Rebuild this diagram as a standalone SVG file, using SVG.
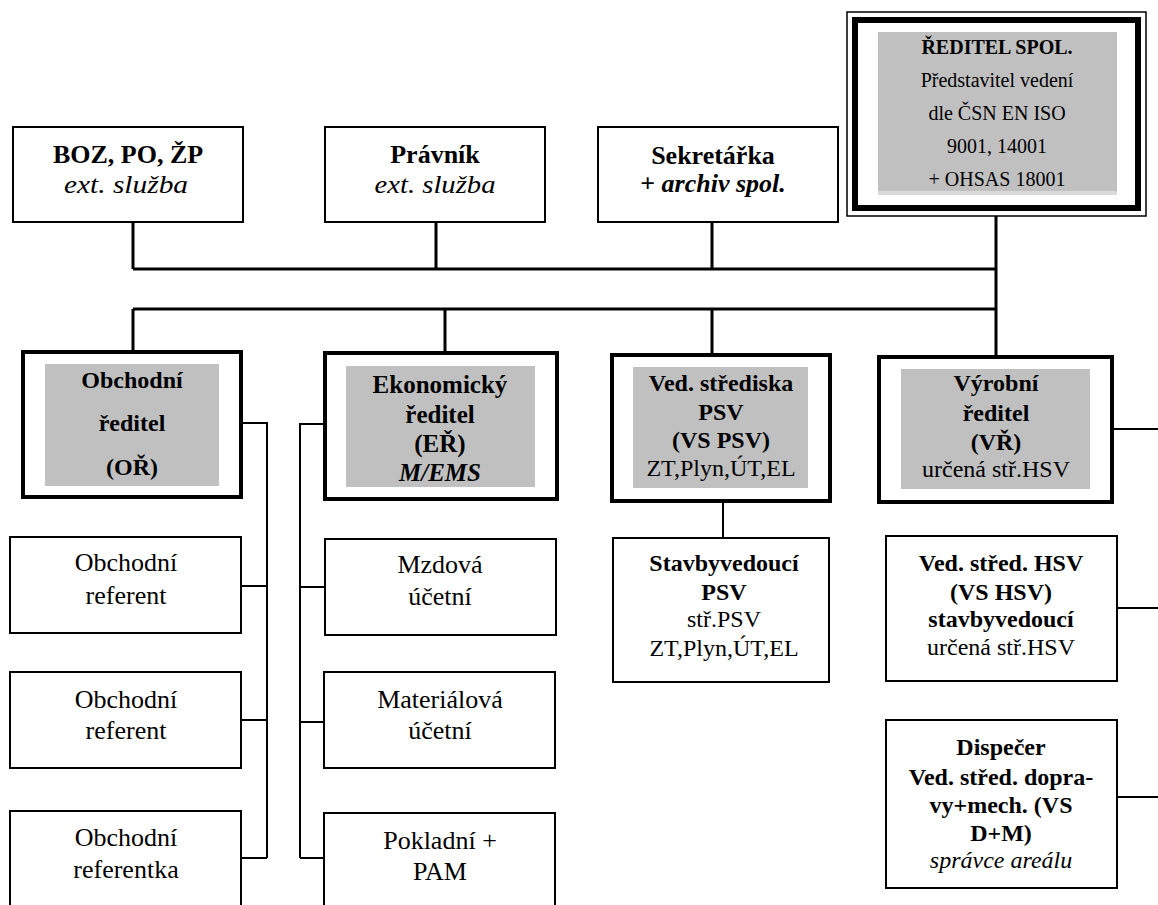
<svg xmlns="http://www.w3.org/2000/svg" width="1158" height="905" viewBox="0 0 1158 905">
<style>
text{font-family:"Liberation Serif","Times New Roman",serif;fill:#000;text-anchor:middle}
.b{font-weight:bold}
.i{font-style:italic}
.t26{font-size:26px}
.t24{font-size:24px}
.t20{font-size:20px}
.thin{fill:#fff;stroke:#000;stroke-width:2}
.thick{fill:#fff;stroke:#000;stroke-width:4}
.gray{fill:#c0c0c0}
.c3{stroke:#000;stroke-width:3;fill:none}
.c2{stroke:#000;stroke-width:2;fill:none}
</style>
<g id="connectors">
<path class="c3" d="M133,222V269M436,222V269M712,222V269M996,216V357M133,269H997M133,309H997M133,309V352M445,309V353M712,309V355"/>
<path class="c2" d="M241,423H267V858M241,586H267M241,720H267M241,858H267"/>
<path class="c2" d="M325,424H300V858M300,587H325M300,722H325M300,858H325"/>
<path class="c2" d="M723,501V538M1112,429H1158M1117,608H1158M1117,797H1158"/>
</g>
<g id="director">
<rect x="847" y="12" width="299" height="204" fill="#fff" stroke="#000" stroke-width="1.5"/>
<rect x="855" y="20" width="283" height="188" fill="#fff" stroke="#000" stroke-width="6"/>
<rect class="gray" x="878" y="32" width="239" height="163"/>
<rect x="878" y="191" width="239" height="4" fill="#d9d9d9"/>
<text class="t20 b" x="997" y="54">ŘEDITEL SPOL.</text>
<text class="t20" x="997" y="87">Představitel vedení</text>
<text class="t20" x="997" y="120">dle ČSN EN ISO</text>
<text class="t20" x="997" y="153">9001, 14001</text>
<text class="t20" x="997" y="186">+ OHSAS 18001</text>
</g>
<g id="boz">
<rect class="thin" x="13" y="127" width="230" height="95"/>
<text class="t26 b" x="128" y="163">BOZ, PO, ŽP</text>
<text class="t26 i" x="126" y="193" textLength="124" lengthAdjust="spacingAndGlyphs">ext. služba</text>
</g>
<g id="pravnik">
<rect class="thin" x="325" y="127" width="220" height="95"/>
<text class="t26 b" x="435" y="163">Právník</text>
<text class="t26 i" x="435" y="193" textLength="121" lengthAdjust="spacingAndGlyphs">ext. služba</text>
</g>
<g id="sekretarka">
<rect class="thin" x="598" y="127" width="240" height="95"/>
<text class="t26 b" x="713" y="164">Sekretářka</text>
<text class="t26" x="713" y="192"><tspan class="b">+ </tspan><tspan class="b i">archiv spol.</tspan></text>
</g>
<g id="obchodni-reditel">
<rect class="thick" x="23" y="352" width="218" height="145"/>
<rect class="gray" x="45" y="364" width="174" height="122"/>
<text class="t24 b" x="132" y="388">Obchodní</text>
<text class="t24 b" x="132" y="431">ředitel</text>
<text class="t24 b" x="132" y="475">(OŘ)</text>
</g>
<g id="ekonomicky-reditel">
<rect class="thick" x="325" y="353" width="232" height="146"/>
<rect class="gray" x="346" y="366" width="189" height="121"/>
<text class="b" font-size="25" x="440" y="393">Ekonomický</text>
<text class="b" font-size="25" x="440" y="423">ředitel</text>
<text class="b" font-size="25" x="440" y="452">(EŘ)</text>
<text class="b i" font-size="25" x="440" y="481">M/EMS</text>
</g>
<g id="ved-strediska-psv">
<rect class="thick" x="612" y="355" width="218" height="146"/>
<rect class="gray" x="633" y="367" width="175" height="121"/>
<text class="t24 b" x="721" y="391">Ved. střediska</text>
<text class="t24 b" x="721" y="420">PSV</text>
<text class="t24 b" x="721" y="448">(VS PSV)</text>
<text class="t24" x="721" y="476">ZT,Plyn,ÚT,EL</text>
</g>
<g id="vyrobni-reditel">
<rect class="thick" x="879" y="357" width="233" height="145"/>
<rect class="gray" x="901" y="369" width="189" height="120"/>
<text class="t24 b" x="996" y="391">Výrobní</text>
<text class="t24 b" x="996" y="421">ředitel</text>
<text class="t24 b" x="996" y="450">(VŘ)</text>
<text class="t24" x="996" y="477">určená stř.HSV</text>
</g>
<g id="obchodni-referent-1">
<rect class="thin" x="10" y="537" width="231" height="96"/>
<text class="t26" x="126" y="571">Obchodní</text>
<text class="t26" x="126" y="604">referent</text>
</g>
<g id="obchodni-referent-2">
<rect class="thin" x="10" y="672" width="231" height="96"/>
<text class="t26" x="126" y="708">Obchodní</text>
<text class="t26" x="126" y="739">referent</text>
</g>
<g id="obchodni-referentka">
<rect class="thin" x="10" y="811" width="231" height="100"/>
<text class="t26" x="126" y="846">Obchodní</text>
<text class="t26" x="126" y="878">referentka</text>
</g>
<g id="mzdova-ucetni">
<rect class="thin" x="325" y="539" width="231" height="96"/>
<text class="t26" x="440" y="573">Mzdová</text>
<text class="t26" x="440" y="605">účetní</text>
</g>
<g id="materialova-ucetni">
<rect class="thin" x="324" y="672" width="231" height="96"/>
<text class="t26" x="440" y="708">Materiálová</text>
<text class="t26" x="440" y="739">účetní</text>
</g>
<g id="pokladni">
<rect class="thin" x="324" y="813" width="231" height="100"/>
<text class="t26" x="440" y="849">Pokladní +</text>
<text class="t26" x="440" y="880">PAM</text>
</g>
<g id="stavbyvedouci-psv">
<rect class="thin" x="613" y="538" width="216" height="144"/>
<text class="t24 b" x="724" y="571">Stavbyvedoucí</text>
<text class="t24 b" x="724" y="600">PSV</text>
<text class="t24" x="724" y="627">stř.PSV</text>
<text class="t24" x="724" y="656">ZT,Plyn,ÚT,EL</text>
</g>
<g id="ved-stred-hsv">
<rect class="thin" x="886" y="536" width="231" height="145"/>
<text class="t24 b" x="1001" y="571">Ved. střed. HSV</text>
<text class="t24 b" x="1001" y="600">(VS HSV)</text>
<text class="t24 b" x="1001" y="627">stavbyvedoucí</text>
<text class="t24" x="1001" y="655">určená stř.HSV</text>
</g>
<g id="dispecer">
<rect class="thin" x="886" y="720" width="231" height="168"/>
<text class="t24 b" x="1001" y="755">Dispečer</text>
<text class="t24 b" x="1001" y="785">Ved. střed. dopra-</text>
<text class="t24 b" x="1001" y="813">vy+mech. (VS</text>
<text class="t24 b" x="1001" y="841">D+M)</text>
<text class="t24 i" x="1001" y="868">správce areálu</text>
</g>
</svg>
